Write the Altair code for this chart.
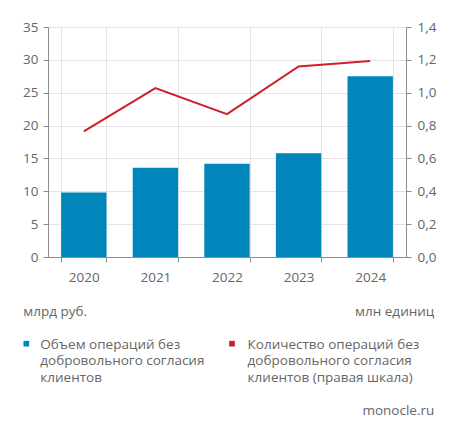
import altair as alt
import pandas as pd

years = ["2020", "2021", "2022", "2023", "2024"]
volume = [9.8, 13.6, 14.2, 15.8, 27.5]          # млрд руб.
count = [0.765, 1.028, 0.87, 1.16, 1.193]       # млн единиц
left_ticks = [0, 5, 10, 15, 20, 25, 30, 35]
right_ticks = [0, 0.2, 0.4, 0.6, 0.8, 1.0, 1.2, 1.4]

BLUE = "#0086BB"
RED = "#CE1F2B"
FONT = "Open Sans"
TXT = "#666666"
FS = 13.5

df = pd.DataFrame({"year": years, "volume": volume, "count": count})

x = alt.X("year:N", title=None,
          scale=alt.Scale(paddingInner=0.366, paddingOuter=0.183),
          axis=alt.Axis(labelAngle=0, tickBand="extent", grid=True, gridColor="#e4e4e4",
                        domainColor="#8c8c8c", tickColor="#8c8c8c", tickSize=5,
                        labelPadding=8, labelFontSize=FS, labelColor=TXT, labelFont=FONT))

bars = alt.Chart(df).mark_bar(color=BLUE).encode(
    x=x,
    y=alt.Y("volume:Q", title=None,
            scale=alt.Scale(domain=[0, 35], nice=False),
            axis=alt.Axis(values=left_ticks, grid=True, gridColor="#e4e4e4",
                          domainColor="#8c8c8c", tickColor="#8c8c8c", tickSize=5,
                          labelPadding=5, labelFontSize=FS, labelColor=TXT, labelFont=FONT)),
)

line = alt.Chart(df).mark_line(color=RED, strokeWidth=2).encode(
    x=x,
    y=alt.Y("count:Q", title=None,
            scale=alt.Scale(domain=[0, 1.4], nice=False),
            axis=alt.Axis(orient="right", values=right_ticks, grid=False,
                          labelExpr="replace(format(datum.value, '.1f'), '.', ',')",
                          domainColor="#8c8c8c", tickColor="#8c8c8c", tickSize=5,
                          labelPadding=6, labelFontSize=FS, labelColor=TXT, labelFont=FONT)),
)

one = pd.DataFrame({"a": [0]})

def txt(text, xv, yv, align="left", size=FS):
    return alt.Chart(one).mark_text(align=align, baseline="middle", font=FONT, fontSize=size,
                                    color=TXT, lineHeight=16.7).encode(
        x=alt.value(xv), y=alt.value(yv), text=alt.value(text))

def sq(color, xv, yv):
    return alt.Chart(one).mark_square(color=color, size=32, opacity=1).encode(
        x=alt.value(xv), y=alt.value(yv))

unit_l = txt("млрд руб.", -24.7, 284.7)
unit_r = txt("млн единиц", 386.3, 284.7, align="right")
leg1_s = sq(BLUE, -21.7, 316.7)
leg1_t = txt(["Объем операций без", "добровольного согласия", "клиентов"], -7.7, 317.7)
leg2_s = sq(RED, 184, 316.7)
leg2_t = txt(["Количество операций без", "добровольного согласия", "клиентов (правая шкала)"], 199.6, 317.7)
src = txt("monocle.ru", 386.3, 384.4, align="right")

chart = alt.layer(bars, line, unit_l, unit_r, leg1_s, leg1_t, leg2_s, leg2_t, src).resolve_scale(
    y="independent"
).properties(
    width=358, height=230,
    padding={"left": 40, "top": 19, "right": 43, "bottom": 174},
    autosize=alt.AutoSizeParams(type="none"),
).configure_view(stroke=None).configure(background="white")

chart.save("out.html", embed_options={"renderer": "svg", "actions": False})
